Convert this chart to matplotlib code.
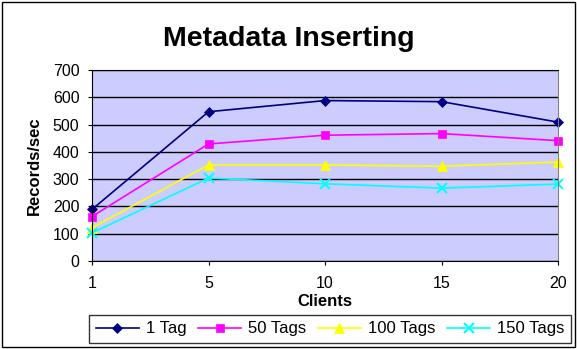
import matplotlib.pyplot as plt

plt.rcParams['font.family'] = ['Liberation Sans', 'DejaVu Sans']

clients = ['1', '5', '10', '15', '20']
tag1 = [189, 547, 588, 584, 509]
tag50 = [163, 429, 461, 467, 441]
tag100 = [122, 352, 352, 347, 363]
tag150 = [103, 304, 283, 267, 282]

series = [
    ('1 Tag', tag1, '#000080', 'D', 5),
    ('50 Tags', tag50, '#FF00FF', 's', 6),
    ('100 Tags', tag100, '#FFFF00', '^', 7),
    ('150 Tags', tag150, '#00FFFF', 'x', 7),
]

fig = plt.figure(figsize=(5.77, 3.49), dpi=100)
# plot area in pixels: left 92, right 558, top 70, bottom 261
ax = fig.add_axes([92 / 577, 1 - 261 / 349, (558 - 92) / 577, (261 - 70) / 349])
ax.set_facecolor('#CCCCFF')

xs = range(len(clients))
for name, vals, color, marker, ms in series:
    ax.plot(xs, vals, color=color, marker=marker, markersize=ms, linewidth=1.2,
            markeredgewidth=1.5 if marker == 'x' else 0.5, label=name, clip_on=False)

ax.set_xlim(0, len(clients) - 1)
ax.set_ylim(0, 700)
ax.set_yticks(range(0, 701, 100))
ax.set_xticks(list(xs))
ax.set_xticklabels(clients)
ax.yaxis.grid(True, color='black', linewidth=1)
ax.set_axisbelow(True)
ax.tick_params(labelsize=11.5, length=3, color='black', direction='out')
ax.tick_params(axis='x', pad=8)
ax.tick_params(axis='y', pad=6)

for side in ['left', 'bottom', 'top']:
    ax.spines[side].set_color('black')
ax.spines['right'].set_color('#808080')

ax.set_xlabel('Clients', fontsize=12, fontweight='bold')
ax.xaxis.set_label_coords(0.5, (261 - 294) / 191)
ax.set_ylabel('Records/sec', fontsize=12, fontweight='bold')
ax.yaxis.set_label_coords((42 - 92) / 466, 0.5)
fig.text(0.5, 1 - 39 / 349, 'Metadata Inserting', ha='center', va='center',
         fontsize=20.5, fontweight='bold')

leg = ax.legend(loc='center', bbox_to_anchor=(330 / 577, 1 - 329 / 349),
                bbox_transform=fig.transFigure, ncol=4, frameon=True,
                fancybox=False, fontsize=12, handlelength=2.6,
                columnspacing=0.7, handletextpad=0.4, borderpad=0.4)
leg.get_frame().set_edgecolor('black')
leg.get_frame().set_linewidth(1)

# outer border around the chart
fig.patches.append(plt.Rectangle((2 / 577, 2 / 349), 573 / 577, 345 / 349,
                                 transform=fig.transFigure, fill=False,
                                 edgecolor='black', linewidth=1))

fig.savefig('out.png', dpi=100)
